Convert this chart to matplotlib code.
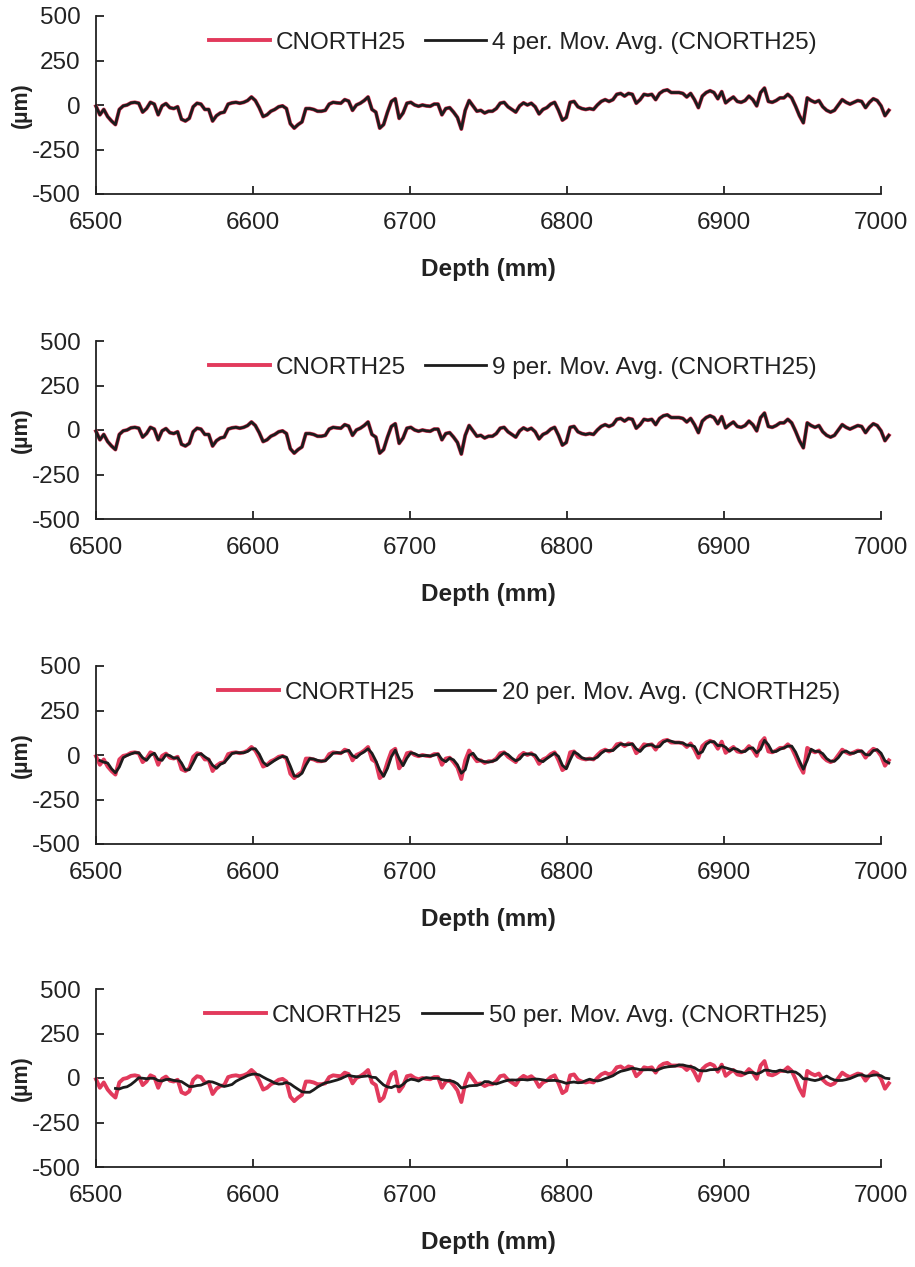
import numpy as np
import pandas as pd
import matplotlib
matplotlib.use("Agg")
import matplotlib.pyplot as plt

# Surface profile CNORTH25 (µm) sampled evenly between these depths (mm)
depth_start, depth_end = 6500.0, 7005.0
cnorth25 = [
    -7, -55, -25, -65, -90, -110, -25, -5, 0, 12, 15, 10, -40, -20, 15, 5,
    -55, -5, 8, -15, -20, -10, -80, -90, -75, -10, 10, 5, -25, -25, -90, -60,
    -45, -40, 5, 12, 15, 10, 15, 25, 45, 25, -15, -65, -55, -35, -25, -10,
    -5, -20, -105, -130, -110, -95, -20, -20, -25, -35, -35, -30, 5, 15, 12, 10,
    30, 22, -30, 0, 10, 25, 45, -25, -40, -130, -110, -40, 20, 35, -75, -45,
    10, 15, 0, -7, 0, -5, -7, 5, 5, -55, -20, -15, -40, -70, -135, -30,
    25, -5, -35, -30, -45, -35, -35, -20, 10, 15, -10, -25, -40, -5, 12, 0,
    10, -10, -50, -25, -15, 5, 15, -30, -85, -70, 15, 20, -10, -20, -25, -20,
    -25, 0, 20, 30, 20, 30, 60, 65, 50, 65, 60, 10, 30, 60, 55, 60,
    30, 65, 80, 85, 70, 70, 70, 65, 45, 65, 30, -15, 50, 70, 80, 70,
    35, 75, 12, 30, 45, 20, 15, 25, 50, 30, -5, 70, 95, 20, 15, 25,
    40, 40, 60, 40, -7, -60, -100, 40, 25, 15, 25, -10, -30, -40, -30, 0,
    30, 15, 5, 15, 25, 20, -15, 15, 35, 25, -5, -60, -30,
]
series_name = "CNORTH25"
periods = [4, 9, 20, 50]
source_step_mm = 0.28  # spacing of the instrument readings the averages run over

x_ticks = [6500, 6600, 6700, 6800, 6900, 7000]
y_ticks = [-500, -250, 0, 250, 500]

RED = "#E23A5C"
DARK = "#1c1c1c"
TXT = "#222222"

plt.rcParams["font.family"] = ["Liberation Sans", "DejaVu Sans"]
plt.rcParams["axes.unicode_minus"] = False

depth = np.linspace(depth_start, depth_end, len(cnorth25))
step = depth[1] - depth[0]
profile = pd.Series(cnorth25, dtype=float)

fig = plt.figure(figsize=(9.15, 12.67), dpi=100)
W, H = 915.0, 1267.0
left_px, right_px, h_px = 96, 881, 178
bottoms_px = [194, 519, 844, 1167]
legend_cx = [513, 513, 529, 516]

for period, bpx, lcx in zip(periods, bottoms_px, legend_cx):
    ax = fig.add_axes([left_px / W, 1 - bpx / H, (right_px - left_px) / W, h_px / H])
    window = max(1, int(round(period * source_step_mm / step)))
    avg = profile.rolling(window).mean()

    raw_line, = ax.plot(depth, profile, color=RED, lw=2.8, clip_on=False,
                        solid_joinstyle="round")
    avg_line, = ax.plot(depth, avg, color=DARK, lw=2.0, clip_on=False,
                        solid_joinstyle="round")

    ax.set_xlim(6500, 7000)
    ax.set_ylim(-500, 500)
    ax.set_xticks(x_ticks)
    ax.set_yticks(y_ticks)
    for s in ("top", "right"):
        ax.spines[s].set_visible(False)
    for s in ("left", "bottom"):
        ax.spines[s].set_linewidth(1.3)
        ax.spines[s].set_color(TXT)
    ax.tick_params(axis="both", direction="in", length=6, width=1.3,
                   colors=TXT, labelsize=17.5)
    ax.tick_params(axis="x", pad=13)
    ax.tick_params(axis="y", pad=11)

    ax.set_xlabel("Depth (mm)", fontsize=17.5, fontweight="bold", color=TXT,
                  labelpad=17)
    ax.set_ylabel("(µm)", fontsize=15.5, fontweight="bold", color=TXT)
    ax.yaxis.set_label_coords(-0.082, 0.5)

    ax.legend([raw_line, avg_line],
              [series_name, f"{period} per. Mov. Avg. ({series_name})"],
              ncol=2, frameon=False, loc="center",
              bbox_to_anchor=((lcx - left_px) / (right_px - left_px), 0.85),
              fontsize=17.5, handlelength=2.5, handletextpad=0.25,
              columnspacing=0.8, labelcolor=TXT)

fig.savefig("out.png", dpi=100, facecolor="white")
